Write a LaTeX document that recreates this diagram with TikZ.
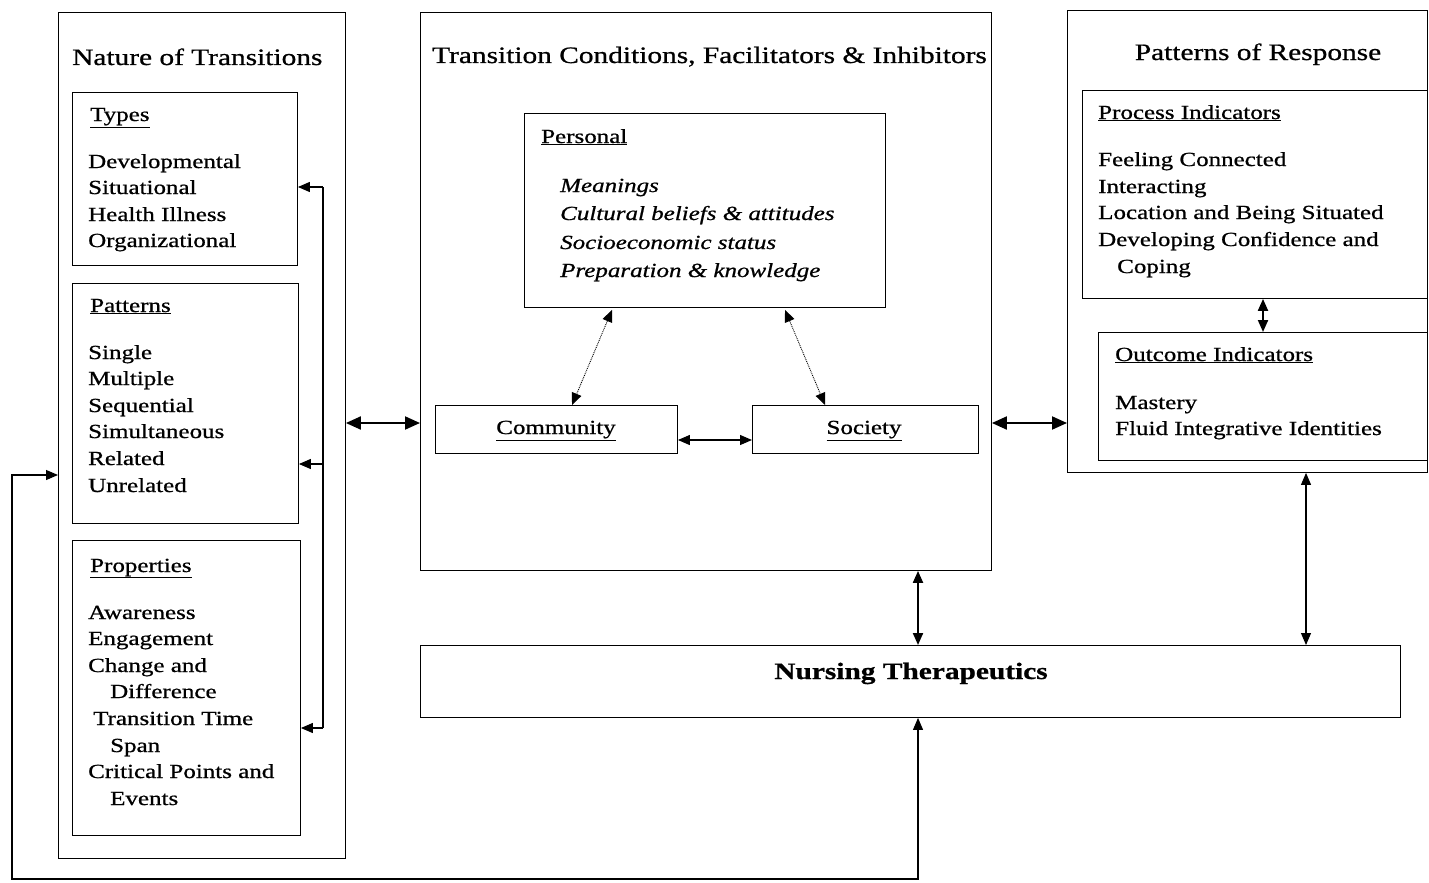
\documentclass[tikz,border=0pt]{standalone}
\usepackage{fontspec}
\setmainfont[FakeStretch=1.25,FakeBold=0.8]{Liberation Serif}
\usetikzlibrary{arrows.meta,calc}
\newcommand\bodyf{\fontsize{20}{24}\selectfont}
\newcommand\titlef{\fontsize{23.5}{28}\selectfont}
\begin{document}
\begin{tikzpicture}[x=1pt,y=-1pt,
  box/.style={draw, line width=0.9pt, anchor=north west, inner sep=0pt},
  txt/.style={anchor=base west, inner sep=0pt, font=\bodyf},
  ttl/.style={anchor=base west, inner sep=0pt, font=\titlef},
  tip/.style={arrows={-Triangle[length=12pt,width=10pt]}},
  dbl/.style={arrows={Triangle[length=12pt,width=10pt]-Triangle[length=12pt,width=10pt]}},
  bigdbl/.style={arrows={Triangle[length=15pt,width=13pt]-Triangle[length=15pt,width=13pt]}},
  thick arrow/.style={line width=2pt},
  thin arrow/.style={line width=1.1pt}]
\useasboundingbox (0,0) rectangle (1429,883);

% ---------- boxes ----------
\node[box, minimum width=287pt, minimum height=846pt] (nature) at (58,12) {};
\node[box, minimum width=225pt, minimum height=173pt] (types) at (72,92) {};
\node[box, minimum width=226pt, minimum height=240pt] (patterns) at (72,283) {};
\node[box, minimum width=228pt, minimum height=295pt] (properties) at (72,540) {};
\node[box, minimum width=571pt, minimum height=558pt] (cond) at (420,12) {};
\node[box, minimum width=361pt, minimum height=194pt] (personal) at (524,113) {};
\node[box, minimum width=242pt, minimum height=48pt] (community) at (435,405) {};
\node[box, minimum width=226pt, minimum height=48pt] (society) at (752,405) {};
\node[box, minimum width=360pt, minimum height=462pt] (response) at (1067,10) {};
\node[box, minimum width=345pt, minimum height=208pt] (process) at (1082,90) {};
\node[box, minimum width=329pt, minimum height=128pt] (outcome) at (1098,332) {};
\node[box, minimum width=980pt, minimum height=72pt] (nursing) at (420,645) {};

\node[anchor=base, inner sep=0pt, font=\bodyf] (tcomm) at (556,434) {\underline{Community}};
\node[anchor=base, inner sep=0pt, font=\bodyf] (tsoc) at (864,434) {\underline{Society}};
\node[anchor=base, inner sep=0pt, font=\titlef\bfseries] (tnurs) at (911,679) {Nursing Therapeutics};

% ---------- Nature of transitions ----------
\node[ttl] (tnature) at (72,65) {Nature of Transitions};
\node[txt] (htypes) at (90,121) {\underline{Types}};
\node[txt] (ty1) at (88,168) {Developmental};
\node[txt] (ty2) at (88,194) {Situational};
\node[txt] (ty3) at (88,221) {Health Illness};
\node[txt] (ty4) at (88,247) {Organizational};
\node[txt] (hpatterns) at (90,312) {\underline{Patterns}};
\node[txt] (pa1) at (88,359) {Single};
\node[txt] (pa2) at (88,385) {Multiple};
\node[txt] (pa3) at (88,412) {Sequential};
\node[txt] (pa4) at (88,438) {Simultaneous};
\node[txt] (pa5) at (88,465) {Related};
\node[txt] (pa6) at (88,492) {Unrelated};
\node[txt] (hprop) at (90,572) {\underline{Properties}};
\node[txt] (pr1) at (88,619) {Awareness};
\node[txt] (pr2) at (88,645) {Engagement};
\node[txt] (pr3) at (88,672) {Change and};
\node[txt] (pr4) at (110,698) {Difference};
\node[txt] (pr5) at (93,725) {Transition Time};
\node[txt] (pr6) at (110,752) {Span};
\node[txt] (pr7) at (88,778) {Critical Points and};
\node[txt] (pr8) at (110,805) {Events};

% ---------- Conditions ----------
\node[ttl] (tcond) at (432,63) {Transition Conditions, Facilitators \& Inhibitors};
\node[txt] (hpers) at (541,143) {\underline{Personal}};
\node[txt, font=\bodyf\itshape] (pe1) at (560,192) {Meanings};
\node[txt, font=\bodyf\itshape] (pe2) at (560,220) {Cultural beliefs \& attitudes};
\node[txt, font=\bodyf\itshape] (pe3) at (560,249) {Socioeconomic status};
\node[txt, font=\bodyf\itshape] (pe4) at (560,277) {Preparation \& knowledge};

% ---------- Patterns of response ----------
\node[anchor=base, inner sep=0pt, font=\titlef] (tresp) at (1258,60) {Patterns of Response};
\node[txt] (hproc) at (1098,119) {\underline{Process Indicators}};
\node[txt] (pi1) at (1098,166) {Feeling Connected};
\node[txt] (pi2) at (1098,193) {Interacting};
\node[txt] (pi3) at (1098,219) {Location and Being Situated};
\node[txt] (pi4) at (1098,246) {Developing Confidence and};
\node[txt] (pi5) at (1117,273) {Coping};
\node[txt] (hout) at (1115,361) {\underline{Outcome Indicators}};
\node[txt] (oi1) at (1115,409) {Mastery};
\node[txt] (oi2) at (1115,435) {Fluid Integrative Identities};

% ---------- helper coordinates ----------
\coordinate (y187) at (0,187);
\coordinate (y423) at (0,423);
\coordinate (y440) at (0,440);
\coordinate (y475) at (0,475);
\coordinate (x918) at (918,0);
\coordinate (x1263) at (1263,0);
\coordinate (x1306) at (1306,0);
\coordinate (bt) at (323,187);
\coordinate (bm) at (323,464);
\coordinate (bb) at (323,728);
\coordinate (fa) at (12,475);
\coordinate (fb) at (12,879);
\coordinate (fc) at (918,879);

% ---------- connectors ----------
\draw[thin arrow] (bt) -- (bb);
\draw[thin arrow, tip] (bt) -- (types.east |- bt);
\draw[thin arrow, tip] (bm) -- (patterns.east |- bm);
\draw[thin arrow, tip] (bb) -- (properties.east |- bb);

\draw[thick arrow, bigdbl] (nature.east |- y423) -- (cond.west |- y423);
\draw[thick arrow, bigdbl] (cond.east |- y423) -- (response.west |- y423);

\draw[line width=0.9pt, densely dotted, dbl] ($(personal.south west)+(88,2)$) -- ($(community.north west)+(137,0)$);
\draw[line width=0.9pt, densely dotted, dbl] ($(personal.south west)+(261,2)$) -- ($(society.north west)+(73,0)$);
\draw[thin arrow, dbl] (community.east |- y440) -- (society.west |- y440);

\draw[thick arrow, dbl] (cond.south -| x918) -- (nursing.north -| x918);
\draw[thick arrow, dbl] (process.south -| x1263) -- (outcome.north -| x1263);
\draw[thin arrow, dbl] (response.south -| x1306) -- (nursing.north -| x1306);

\draw[thin arrow, dbl] (nature.west |- y475) -- (fa) -- (fb) -- (fc) -- (nursing.south -| x918);
\end{tikzpicture}
\end{document}
